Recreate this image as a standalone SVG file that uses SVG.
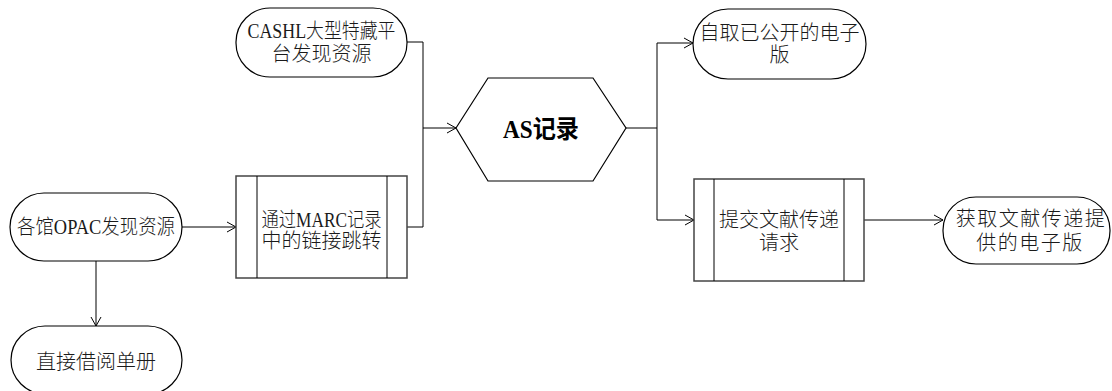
<svg xmlns="http://www.w3.org/2000/svg" width="1112" height="391" viewBox="0 0 1112 391">
<defs>
<marker id="arr" markerUnits="userSpaceOnUse" markerWidth="12" markerHeight="12" refX="10" refY="6" orient="auto">
<path d="M1,1 L10,6 L1,11" fill="none" stroke="#000" stroke-width="1"/>
</marker>
<style>
.sh{fill:#fff;stroke:#000;stroke-width:1.2}
.pb{fill:#fff;stroke:#444;stroke-width:1.5}
.in{stroke:#000;stroke-width:1}
.t{font-family:"Liberation Serif","Noto Sans CJK SC",serif;font-size:20px;font-weight:300;fill:#1a1a1a;text-anchor:middle}
.b{font-size:25px;font-weight:bold;fill:#000}
.c{fill:none;stroke:#000;stroke-width:1}
</style>
</defs>
<rect width="1112" height="391" fill="#fff"/>
<g id="connectors">
<path class="c" d="M182,227 H236" marker-end="url(#arr)"/>
<path class="c" d="M96,261 V326" marker-end="url(#arr)"/>
<path class="c" d="M407,42 H423 V128 H456" marker-end="url(#arr)"/>
<path class="c" d="M407,227 H423 V128"/>
<path class="c" d="M626,128 H657 V43 H693" marker-end="url(#arr)"/>
<path class="c" d="M657,128 V220 H694" marker-end="url(#arr)"/>
<path class="c" d="M864,220 H943" marker-end="url(#arr)"/>
</g>
<g id="n1">
<rect class="sh" x="10" y="193" width="172" height="68" rx="34" ry="34"/>
<text class="t" x="96" y="234" textLength="158" lengthAdjust="spacingAndGlyphs">各馆OPAC发现资源</text>
</g>
<g id="n2">
<rect class="sh" x="11" y="326" width="171" height="68" rx="34" ry="34"/>
<text class="t" x="96" y="369">直接借阅单册</text>
</g>
<g id="n3">
<rect class="sh" x="236" y="8" width="171" height="69" rx="34" ry="34"/>
<text class="t" x="321.5" y="38" textLength="148" lengthAdjust="spacingAndGlyphs">CASHL大型特藏平</text>
<text class="t" x="321.5" y="61">台发现资源</text>
</g>
<g id="n4">
<rect class="pb" x="236" y="176" width="171" height="102"/>
<line class="in" x1="257" y1="176" x2="257" y2="278"/>
<line class="in" x1="387" y1="176" x2="387" y2="278"/>
<text class="t" x="321.5" y="227" textLength="120" lengthAdjust="spacingAndGlyphs">通过MARC记录</text>
<text class="t" x="321.5" y="248">中的链接跳转</text>
</g>
<g id="n5">
<polygon class="sh" points="456,128 488,78 593,78 626,128 593,181 488,181"/>
<text class="t b" x="541" y="138" textLength="76" lengthAdjust="spacingAndGlyphs">AS记录</text>
</g>
<g id="n6">
<rect class="sh" x="693" y="9" width="173" height="70" rx="35" ry="35"/>
<text class="t" x="779.5" y="40">自取已公开的电子</text>
<text class="t" x="779.5" y="62">版</text>
</g>
<g id="n7">
<rect class="pb" x="694" y="179" width="170" height="102"/>
<line class="in" x1="714" y1="179" x2="714" y2="281"/>
<line class="in" x1="844" y1="179" x2="844" y2="281"/>
<text class="t" x="779" y="227">提交文献传递</text>
<text class="t" x="779" y="250">请求</text>
</g>
<g id="n8">
<rect class="sh" x="943" y="197" width="167" height="67" rx="33" ry="33"/>
<text class="t" x="1031" y="226" letter-spacing="1.5">获取文献传递提</text>
<text class="t" x="1030" y="250" letter-spacing="1.5">供的电子版</text>
</g>
</svg>
